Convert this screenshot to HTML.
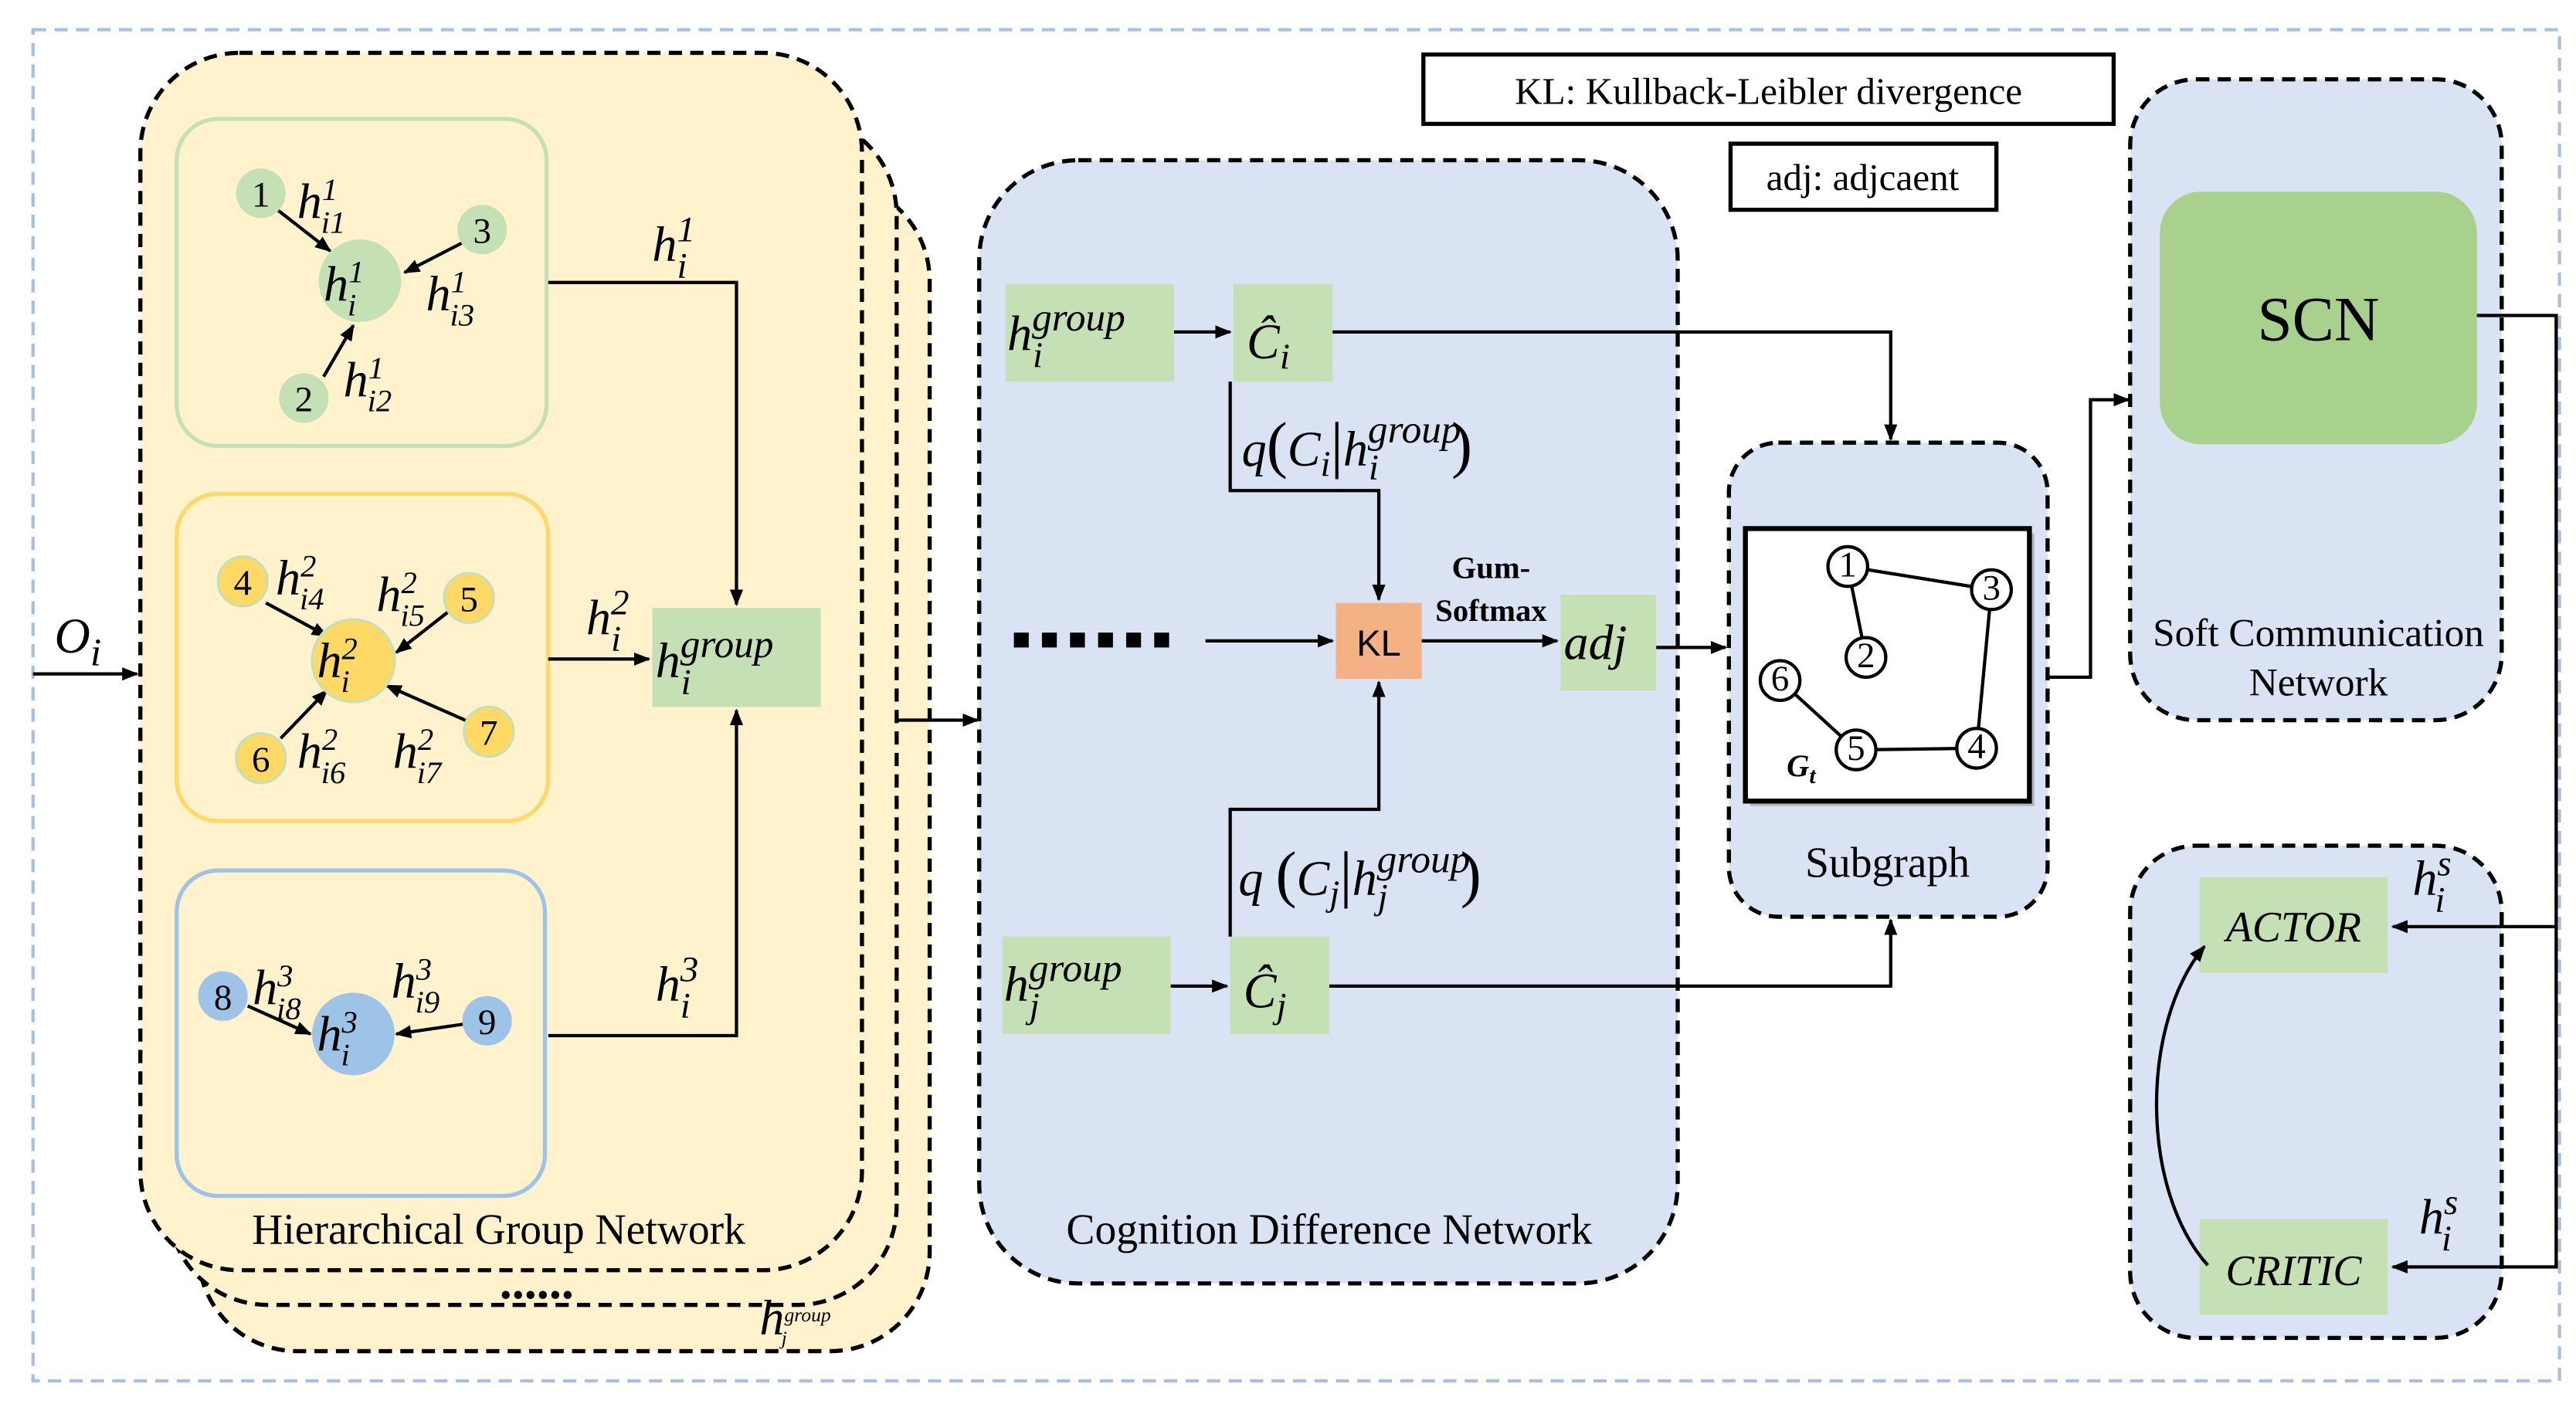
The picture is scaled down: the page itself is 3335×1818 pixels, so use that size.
<!DOCTYPE html>
<html><head><meta charset="utf-8"><style>
html,body{margin:0;padding:0;background:#fff;}
svg{display:block;}
text{font-family:"Liberation Serif",serif;}
.m{font-style:italic;font-size:30px;}
.n{font-family:"Liberation Sans",sans-serif;font-size:22px;text-anchor:middle;}
</style></head><body>
<svg width="3335" height="1818" viewBox="0 0 1560 850" preserveAspectRatio="none" xmlns="http://www.w3.org/2000/svg">
<defs>
<marker id="a" markerWidth="10" markerHeight="10" refX="9" refY="5" orient="auto" markerUnits="userSpaceOnUse"><path d="M0,1 L10,5 L0,9 z" fill="#000"/></marker>
</defs>
<rect x="20" y="18" width="1530" height="818" fill="none" stroke="#a9c0e0" stroke-width="2" stroke-dasharray="8,5"/>
<rect x="120" y="110" width="443" height="708" rx="60" fill="#fff2cc" stroke="#000" stroke-width="2.5" stroke-dasharray="8,5"/>
<rect x="102" y="70" width="441" height="720" rx="60" fill="#fff2cc" stroke="#000" stroke-width="2.5" stroke-dasharray="8,5"/>
<rect x="85" y="32" width="437" height="737" rx="60" fill="#fff2cc" stroke="#000" stroke-width="2.5" stroke-dasharray="8,5"/>
<rect x="107" y="72" width="224" height="198" rx="25" fill="#fff2cc" stroke="#c5e0b4" stroke-width="2.5"/>
<rect x="107" y="299" width="225" height="198" rx="25" fill="#fff2cc" stroke="#ffd966" stroke-width="2.5"/>
<rect x="107" y="527" width="223" height="197" rx="25" fill="#fff2cc" stroke="#9dc3e6" stroke-width="2.5"/>
<text x="302" y="753" font-size="26" text-anchor="middle">Hierarchical Group Network</text>
<text x="325" y="786" font-size="30" font-weight="bold" text-anchor="middle">......</text>
<text x="460" y="808" class="m" font-size="17">h<tspan dy="-8" font-size="12">group</tspan><tspan dx="-30" dy="14" font-size="12">j</tspan></text>
<g stroke="#000" stroke-width="2" marker-end="url(#a)">
<line x1="168" y1="127" x2="200" y2="152"/><line x1="280" y1="147" x2="245" y2="165"/><line x1="196" y1="228" x2="214" y2="197"/>
<line x1="161" y1="365" x2="198" y2="385"/><line x1="272" y1="370" x2="240" y2="395"/><line x1="170" y1="447" x2="198" y2="418"/><line x1="284" y1="437" x2="234" y2="415"/>
<line x1="150" y1="609" x2="188" y2="626"/><line x1="281" y1="620" x2="240" y2="626"/>
</g>
<g fill="#c5e0b4"><circle cx="158" cy="117" r="15"/><circle cx="218" cy="170" r="25"/><circle cx="292" cy="139" r="15"/><circle cx="184" cy="241" r="15"/></g>
<g fill="#ffd966" stroke="#c5e0b4" stroke-width="1.5"><circle cx="147" cy="352" r="15"/><circle cx="284" cy="362" r="15"/><circle cx="214" cy="400" r="25"/><circle cx="158" cy="459" r="15"/><circle cx="296" cy="443" r="15"/></g>
<g fill="#9dc3e6"><circle cx="135" cy="603" r="15"/><circle cx="214" cy="626" r="25"/><circle cx="295" cy="618" r="15"/></g>
<g class="n"><text x="158" y="125">1</text><text x="292" y="147">3</text><text x="184" y="249">2</text><text x="147" y="360">4</text><text x="284" y="370">5</text><text x="158" y="467">6</text><text x="296" y="451">7</text><text x="135" y="611">8</text><text x="295" y="626">9</text></g>
<g class="m" font-size="28">
<text x="196" y="182">h<tspan dy="-11" font-size="19">1</tspan><tspan dx="-10" dy="20" font-size="19">i</tspan></text>
<text x="180" y="132">h<tspan dy="-11" font-size="19">1</tspan><tspan dx="-10" dy="20" font-size="19">i1</tspan></text>
<text x="258" y="188">h<tspan dy="-11" font-size="19">1</tspan><tspan dx="-10" dy="20" font-size="19">i3</tspan></text>
<text x="208" y="240">h<tspan dy="-11" font-size="19">1</tspan><tspan dx="-10" dy="20" font-size="19">i2</tspan></text>
<text x="192" y="410">h<tspan dy="-11" font-size="19">2</tspan><tspan dx="-10" dy="20" font-size="19">i</tspan></text>
<text x="167" y="360">h<tspan dy="-11" font-size="19">2</tspan><tspan dx="-10" dy="20" font-size="19">i4</tspan></text>
<text x="228" y="370">h<tspan dy="-11" font-size="19">2</tspan><tspan dx="-10" dy="20" font-size="19">i5</tspan></text>
<text x="180" y="465">h<tspan dy="-11" font-size="19">2</tspan><tspan dx="-10" dy="20" font-size="19">i6</tspan></text>
<text x="238" y="465">h<tspan dy="-11" font-size="19">2</tspan><tspan dx="-10" dy="20" font-size="19">i7</tspan></text>
<text x="192" y="636">h<tspan dy="-11" font-size="19">3</tspan><tspan dx="-10" dy="20" font-size="19">i</tspan></text>
<text x="153" y="608">h<tspan dy="-11" font-size="19">3</tspan><tspan dx="-10" dy="20" font-size="19">i8</tspan></text>
<text x="237" y="604">h<tspan dy="-11" font-size="19">3</tspan><tspan dx="-10" dy="20" font-size="19">i9</tspan></text>
</g>
<rect x="395" y="368" width="102" height="60" fill="#c5e0b4"/>
<g stroke="#000" stroke-width="2" fill="none" marker-end="url(#a)">
<polyline points="332,171 446,171 446,366"/><line x1="332" y1="399" x2="393" y2="399"/><polyline points="332,627 446,627 446,430"/>
<line x1="20" y1="408" x2="83" y2="408"/><line x1="543" y1="436" x2="592" y2="436"/>
</g>
<g class="m" font-size="32">
<text x="395" y="158">h<tspan dy="-12" font-size="22">1</tspan><tspan dx="-11" dy="22" font-size="22">i</tspan></text>
<text x="355" y="384">h<tspan dy="-12" font-size="22">2</tspan><tspan dx="-11" dy="22" font-size="22">i</tspan></text>
<text x="397" y="606">h<tspan dy="-12" font-size="22">3</tspan><tspan dx="-11" dy="22" font-size="22">i</tspan></text>
<text x="397" y="410">h<tspan dy="-12" font-size="24">group</tspan><tspan dx="-56" dy="22" font-size="22">i</tspan></text>
<text x="33" y="395">O<tspan dy="8" font-size="24">i</tspan></text>
</g>
<rect x="593" y="97" width="423" height="680" rx="60" fill="#dae3f3" stroke="#000" stroke-width="2.5" stroke-dasharray="8,5"/>
<text x="805" y="753" font-size="26" text-anchor="middle">Cognition Difference Network</text>
<rect x="609" y="172" width="102" height="59" fill="#c5e0b4"/><rect x="747" y="172" width="60" height="59" fill="#c5e0b4"/>
<rect x="607" y="567" width="102" height="59" fill="#c5e0b4"/><rect x="745" y="567" width="60" height="59" fill="#c5e0b4"/>
<rect x="809" y="365" width="52" height="46" fill="#f4b183"/>
<rect x="945" y="360" width="58" height="58" fill="#c5e0b4"/>
<text x="835" y="397" class="n" font-size="24">KL</text>
<text x="903" y="350" font-family="Liberation Sans,sans-serif" font-weight="bold" font-size="19" text-anchor="middle">Gum-</text>
<text x="903" y="376" font-family="Liberation Sans,sans-serif" font-weight="bold" font-size="19" text-anchor="middle">Softmax</text>
<g fill="#000"><rect x="614" y="383" width="9" height="9"/><rect x="631" y="383" width="9" height="9"/><rect x="648" y="383" width="9" height="9"/><rect x="665" y="383" width="9" height="9"/><rect x="682" y="383" width="9" height="9"/><rect x="699" y="383" width="9" height="9"/></g>
<g stroke="#000" stroke-width="2" fill="none" marker-end="url(#a)">
<line x1="711" y1="201" x2="745" y2="201"/><polyline points="807,201 1145,201 1145,266"/>
<polyline points="745,231 745,297 835,297 835,363"/>
<line x1="730" y1="388" x2="807" y2="388"/><line x1="861" y1="388" x2="943" y2="388"/><line x1="1003" y1="392" x2="1045" y2="392"/>
<line x1="709" y1="597" x2="743" y2="597"/><polyline points="745,567 745,490 835,490 835,413"/>
<polyline points="805,597 1145,597 1145,557"/>
<polyline points="1240,410 1266,410 1266,242 1289,242"/>
</g>
<g class="m" font-size="32">
<text x="610" y="212">h<tspan dy="-12" font-size="24">group</tspan><tspan dx="-56" dy="22" font-size="22">i</tspan></text>
<text x="608" y="606">h<tspan dy="-12" font-size="24">group</tspan><tspan dx="-56" dy="22" font-size="22">j</tspan></text>
<text x="755" y="217">Ĉ<tspan dy="6" font-size="22">i</tspan></text>
<text x="753" y="610">Ĉ<tspan dy="6" font-size="22">j</tspan></text>
<text x="752" y="282">q<tspan font-style="normal" font-size="38">(</tspan>C<tspan dy="6" font-size="22">i</tspan><tspan dy="-6" font-style="normal" font-size="38">|</tspan>h<tspan dy="-14" font-size="24">group</tspan><tspan dx="-56" dy="22" font-size="22">i</tspan><tspan dx="44" dy="-8" font-style="normal" font-size="38">)</tspan></text>
<text x="750" y="542">q <tspan font-style="normal" font-size="38">(</tspan>C<tspan dy="6" font-size="22">j</tspan><tspan dy="-6" font-style="normal" font-size="38">|</tspan>h<tspan dy="-14" font-size="24">group</tspan><tspan dx="-56" dy="22" font-size="22">j</tspan><tspan dx="44" dy="-8" font-style="normal" font-size="38">)</tspan></text>
<text x="947" y="399">adj</text>
</g>
<rect x="862" y="33" width="418" height="42" fill="#fff" stroke="#000" stroke-width="2.5"/>
<text x="1071" y="63" font-size="23" text-anchor="middle">KL: Kullback-Leibler divergence</text>
<rect x="1048" y="87" width="161" height="40" fill="#fff" stroke="#000" stroke-width="2.5"/>
<text x="1128" y="115" font-size="23" text-anchor="middle">adj: adjcaent</text>
<rect x="1047" y="268" width="193" height="287" rx="30" fill="#dae3f3" stroke="#000" stroke-width="2.5" stroke-dasharray="8,5"/>
<rect x="1060" y="323" width="172" height="165" fill="#888" opacity="0.5"/>
<rect x="1057" y="320" width="172" height="165" fill="#fff" stroke="#000" stroke-width="3"/>
<g stroke="#000" stroke-width="2"><line x1="1119" y1="343" x2="1130" y2="398"/><line x1="1119" y1="343" x2="1206" y2="357"/><line x1="1206" y1="357" x2="1197" y2="453"/><line x1="1197" y1="453" x2="1124" y2="454"/><line x1="1124" y1="454" x2="1078" y2="412"/></g>
<g fill="#fff" stroke="#000" stroke-width="2"><circle cx="1119" cy="343" r="12"/><circle cx="1130" cy="398" r="12"/><circle cx="1206" cy="357" r="12"/><circle cx="1078" cy="412" r="12"/><circle cx="1124" cy="454" r="12"/><circle cx="1197" cy="453" r="12"/></g>
<g class="n" font-size="17"><text x="1119" y="349">1</text><text x="1130" y="404">2</text><text x="1206" y="363">3</text><text x="1078" y="418">6</text><text x="1124" y="460">5</text><text x="1197" y="459">4</text></g>
<text x="1082" y="470" font-size="19" font-weight="bold" font-style="italic">G<tspan dy="4" font-size="14">t</tspan></text>
<text x="1143" y="531" font-size="26" text-anchor="middle">Subgraph</text>
<rect x="1290" y="48" width="225" height="388" rx="40" fill="#dae3f3" stroke="#000" stroke-width="2.5" stroke-dasharray="8,5"/>
<rect x="1308" y="116" width="192" height="153" rx="25" fill="#a9d18e"/>
<text x="1404" y="206" font-size="38" text-anchor="middle">SCN</text>
<text x="1404" y="391" font-size="24" text-anchor="middle">Soft Communication</text>
<text x="1404" y="421" font-size="24" text-anchor="middle">Network</text>
<rect x="1290" y="512" width="225" height="298" rx="40" fill="#dae3f3" stroke="#000" stroke-width="2.5" stroke-dasharray="8,5"/>
<rect x="1332" y="531" width="114" height="58" fill="#c5e0b4"/><rect x="1332" y="738" width="114" height="58" fill="#c5e0b4"/>
<text x="1389" y="570" font-size="26" font-style="italic" text-anchor="middle">ACTOR</text>
<text x="1389" y="778" font-size="26" font-style="italic" text-anchor="middle">CRITIC</text>
<g class="m" font-size="32"><text x="1461" y="542">h<tspan dy="-12" font-size="22">s</tspan><tspan dx="-10" dy="22" font-size="22">i</tspan></text>
<text x="1465" y="747">h<tspan dy="-12" font-size="22">s</tspan><tspan dx="-10" dy="22" font-size="22">i</tspan></text></g>
<g stroke="#000" stroke-width="2" fill="none" marker-end="url(#a)">
<polyline points="1500,191 1548,191 1548,767 1449,767"/><line x1="1548" y1="561" x2="1449" y2="561"/>
<path d="M1337,766 C1296,720 1296,620 1335,573"/>
</g>
</svg>
</body></html>
